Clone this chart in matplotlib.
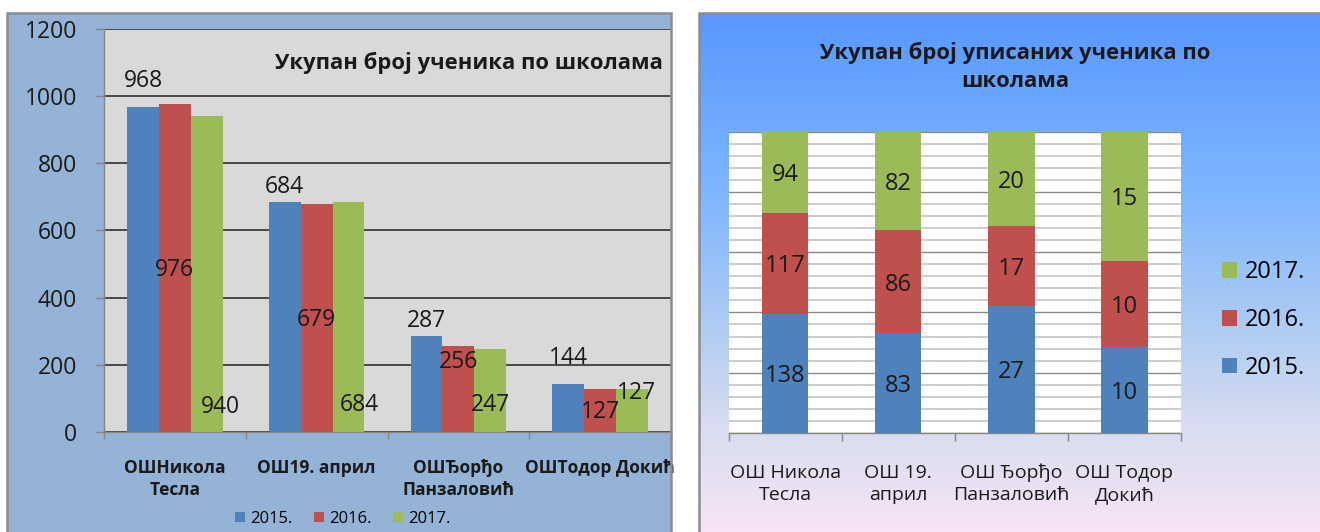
import numpy as np
import matplotlib
matplotlib.use('Agg')
import matplotlib.pyplot as plt
from matplotlib.patches import Rectangle, Patch
from matplotlib.colors import LinearSegmentedColormap
from matplotlib.transforms import blended_transform_factory

plt.rcParams['font.family'] = ['Open Sans', 'DejaVu Sans']

# ---------------- data ----------------
years = ['2015.', '2016.', '2017.']

schools_left = ['ОШНикола\nТесла', 'ОШ19. април', 'ОШЂорђо\nПанзаловић', 'ОШТодор Докић']
total_2015 = [968, 684, 287, 144]
total_2016 = [976, 679, 256, 127]
total_2017 = [940, 684, 247, 127]
left_yticks = [0, 200, 400, 600, 800, 1000, 1200]

schools_right = ['ОШ Никола\nТесла', 'ОШ 19.\nаприл', 'ОШ Ђорђо\nПанзаловић', 'ОШ Тодор\nДокић']
enrolled_2015 = [138, 83, 27, 10]
enrolled_2016 = [117, 86, 17, 10]
enrolled_2017 = [94, 82, 20, 15]

title_left = 'Укупан број ученика по школама'
title_right = 'Укупан број уписаних ученика по\nшколама'

# ---------------- style / layout ----------------
colors = ['#4F81BD', '#C0504D', '#9BBB59']
W, H = 1320, 532
# label anchor heights (data units) and x shifts (px) of the Excel data labels, left chart
label_anchor = [[1045, 482, 74], [730, 334, 79], [330, 208, 80], [220, 61, 117]]
label_dx = [[0, 0, 14], [0, 0, 11], [0, 0, 0], [0, 0, 4]]


def fx(px):
    return px / W


def fy(py):
    return 1 - py / H


fig = plt.figure(figsize=(W / 100, H / 100), dpi=100)
fig.patch.set_facecolor('white')

# ---- panel backgrounds ----
fig.patches.append(Rectangle((fx(7), -0.02), fx(671) - fx(7), fy(13) + 0.02,
                             transform=fig.transFigure, facecolor='#95B3D7',
                             edgecolor='none', zorder=-5))
ax_bg = fig.add_axes([fx(699), 0, 1 - fx(699), fy(13)])
ax_bg.set_zorder(-4)
grad_cmap = LinearSegmentedColormap.from_list(
    'g', [(0.0, '#5898FF'), (0.35, '#7EB6FF'), (0.6, '#AECCF3'),
          (0.8, '#D8DDF0'), (1.0, '#F7E4F6')])
grad = np.linspace(0, 1, 256).reshape(-1, 1)
ax_bg.imshow(grad, aspect='auto', cmap=grad_cmap, extent=[0, 1, 0, 1], origin='upper')
ax_bg.set_axis_off()

# ---------------- left chart ----------------
axL = fig.add_axes([fx(104), fy(432), fx(671) - fx(104), fy(29) - fy(432)])
axL.set_facecolor('#D9D9D9')
cat_px = 142.25
span = (671 - 104) / cat_px
axL.set_xlim(-0.5, -0.5 + span)
axL.set_ylim(0, 1200)
bw = 0.225
xL = np.arange(len(schools_left))
series_left = [total_2015, total_2016, total_2017]
for k, vals in enumerate(series_left):
    axL.bar(xL + (k - 1) * bw, vals, width=bw, color=colors[k], zorder=3, linewidth=0)
for i in range(len(schools_left)):
    for k, vals in enumerate(series_left):
        xpos = xL[i] + (k - 1) * bw + label_dx[i][k] / cat_px
        axL.text(xpos, label_anchor[i][k], str(vals[i]), ha='center', va='center',
                 fontsize=16.5, color='#1a1a1a', zorder=5)
axL.set_yticks(left_yticks)
axL.yaxis.grid(True, color='#222222', linewidth=1.1)
axL.set_axisbelow(True)
axL.tick_params(axis='y', length=6.5, width=1, color='#868686', pad=13,
                labelsize=16.5, labelcolor='#1a1a1a')
axL.set_xticks([])
axL.set_xticks(np.arange(-0.5, len(schools_left), 1.0), minor=True)
axL.tick_params(axis='x', which='minor', length=5, width=1, color='#868686', direction='out')
for s in ['top', 'right']:
    axL.spines[s].set_visible(False)
for s in ['left', 'bottom']:
    axL.spines[s].set_color('#868686')
    axL.spines[s].set_linewidth(1)
trL = blended_transform_factory(axL.transData, axL.transAxes)
for i, name in enumerate(schools_left):
    axL.text(xL[i], -0.068, name, transform=trL, ha='center', va='top',
             fontsize=12.5, fontweight='bold', color='#1a1a1a', linespacing=1.25)
fig.text(fx(469), fy(63), title_left, ha='center', va='center', fontsize=15.8,
         fontweight='bold', color='#1a1a1a')
handlesL = [Patch(facecolor=c, edgecolor='none') for c in colors]
fig.legend(handlesL, years, loc='center', bbox_to_anchor=(fx(343), fy(519)), ncol=3,
           frameon=False, fontsize=12, handlelength=0.6, handleheight=0.6,
           handletextpad=0.3, columnspacing=1.3, borderpad=0, borderaxespad=0)

# ---------------- right chart ----------------
axR = fig.add_axes([fx(728.5), fy(433), fx(1181) - fx(728.5), fy(131.5) - fy(433)])
axR.set_facecolor('white')
axR.set_xlim(-0.5, 3.5)
axR.set_ylim(0, 100)
xR = np.arange(len(schools_right))
series_right = [enrolled_2015, enrolled_2016, enrolled_2017]
totals = np.sum(np.array(series_right, dtype=float), axis=0)
bottom = np.zeros(len(schools_right))
bwR = 0.41
for k, vals in enumerate(series_right):
    pct = np.array(vals, dtype=float) / totals * 100
    axR.bar(xR, pct, width=bwR, bottom=bottom, color=colors[k], zorder=3, linewidth=0)
    for i in range(len(xR)):
        axR.text(xR[i], bottom[i] + pct[i] / 2 - 1.0, str(vals[i]), ha='center', va='center',
                 fontsize=17, color='#1a1a1a', zorder=5)
    bottom += pct
axR.set_yticks(np.arange(0, 101, 20))
axR.set_yticks(np.arange(0, 101, 4), minor=True)
axR.yaxis.grid(True, which='minor', color='#C4C4C4', linewidth=1.2)
axR.yaxis.grid(True, which='major', color='#8A8A8A', linewidth=1.0)
axR.set_axisbelow(True)
axR.tick_params(axis='y', which='both', length=0, labelleft=False)
axR.set_xticks([])
axR.set_xticks(np.arange(-0.5, len(schools_right), 1.0), minor=True)
axR.tick_params(axis='x', which='minor', length=5.5, width=1, color='#868686', direction='out')
for s in ['top', 'right', 'left']:
    axR.spines[s].set_visible(False)
axR.spines['bottom'].set_color('#868686')
axR.spines['bottom'].set_linewidth(1)
trR = blended_transform_factory(axR.transData, axR.transAxes)
for i, name in enumerate(schools_right):
    axR.text(xR[i], -0.169, name, transform=trR, ha='center', va='center',
             fontsize=14, color='#1a1a1a', linespacing=1.3)
fig.text(fx(1015), fy(67), title_right, ha='center', va='center', fontsize=15.8,
         fontweight='bold', color='#1a1a1a', linespacing=1.4)
handlesR = [Patch(facecolor=colors[k], edgecolor='none') for k in (2, 1, 0)]
fig.legend(handlesR, [years[k] for k in (2, 1, 0)], loc='center left',
           bbox_to_anchor=(fx(1222), fy(320)), frameon=False, fontsize=17,
           handlelength=0.64, handleheight=0.64, handletextpad=0.35,
           labelspacing=1.0, borderpad=0, borderaxespad=0)

# ---- panel borders ----
for x0, x1 in [(7, 671), (699, 1325)]:
    fig.patches.append(Rectangle((fx(x0), -0.02), fx(x1) - fx(x0), fy(13) + 0.02,
                                 transform=fig.transFigure, facecolor='none',
                                 edgecolor='#8C8C8C', linewidth=1.8, zorder=20))

fig.savefig('out.png', dpi=100)
